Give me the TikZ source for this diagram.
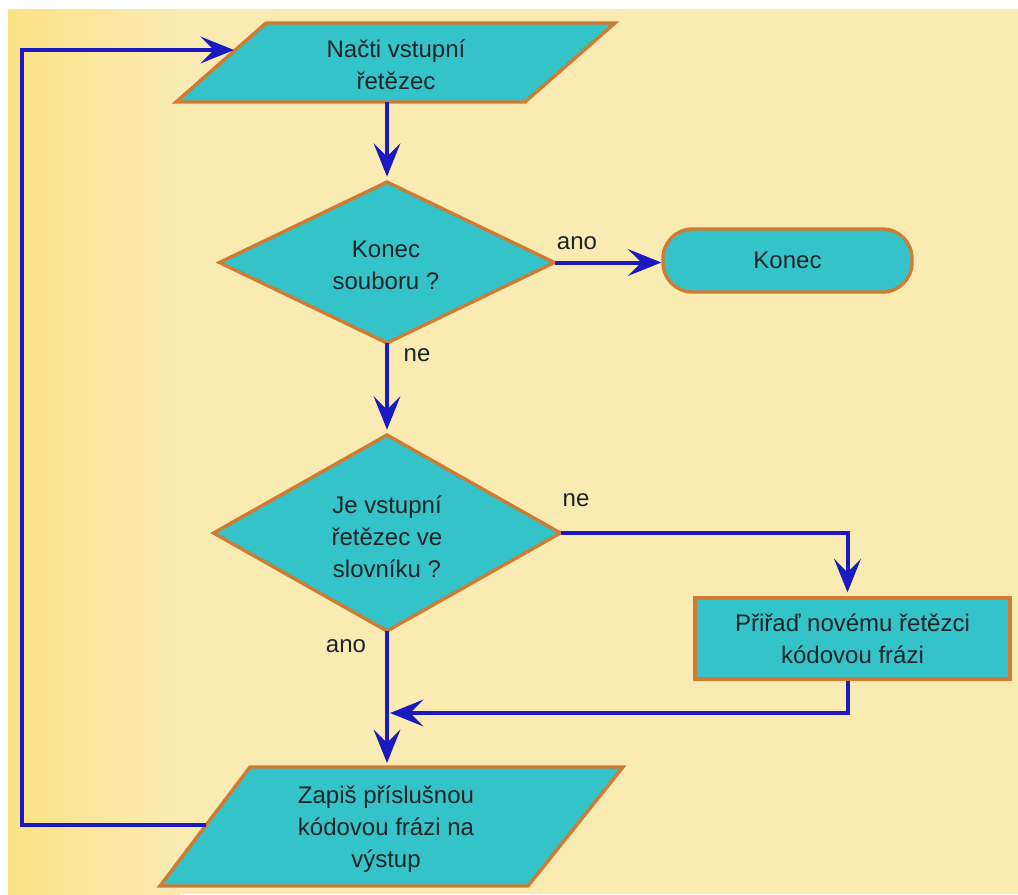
\documentclass[tikz,border=0pt]{standalone}
\usepackage{fontspec}
\setmainfont{Liberation Sans}
\usetikzlibrary{arrows.meta,shapes.geometric,calc}
\definecolor{bgpale}{HTML}{F9EBB2}
\definecolor{bgdeep}{HTML}{FCE186}
\definecolor{boxfill}{HTML}{34C3C8}
\definecolor{boxline}{HTML}{D07A32}
\definecolor{flow}{HTML}{1A1AC0}
\definecolor{ink}{HTML}{1C2428}
\begin{document}
\begin{tikzpicture}[x=0.75pt,y=-0.75pt,
  shapebox/.style={draw=boxline, fill=boxfill, line width=2.5pt},
  dia/.style={shapebox, diamond, inner sep=0pt, outer sep=0pt},
  txt/.style={text=ink, font=\fontsize{18}{24}\selectfont, align=center, inner sep=0pt},
  lbl/.style={txt},
  flowline/.style={draw=flow, line width=3pt},
  flowarrow/.style={flowline, -{Stealth[length=25pt,width=20pt,inset=10pt]}}
]
\useasboundingbox (0,0) rectangle (1018,894);
% background
\fill[white] (0,0) rectangle (1018,894);
\fill[bgpale] (8,9) rectangle (1018,894);
\shade[left color=bgdeep, right color=bgpale] (8,9) rectangle (180,894);

% parallelogram 1
\draw[shapebox] (266,23) -- (615,23) -- (525,102) -- (176,102) -- cycle;
\coordinate (p1b) at (387,102);
\coordinate (p1l) at (234,50);
\node[txt] (p1) at (396,65) {Načti vstupní\\řetězec};

% decision 1
\node[dia, minimum width=251.25pt, minimum height=120.75pt] (d1) at (387,262.5) {};
\node[txt] (d1t) at (386,265) {Konec\\souboru ?};

% terminal
\node[shapebox, txt, rounded corners=22pt, minimum width=186.75pt, minimum height=47.25pt] (t) at (787.5,260.5) {Konec};

% decision 2
\node[dia, minimum width=260.25pt, minimum height=147pt] (d2) at (387,533) {};
\node[txt] (d2t) at (387,537) {Je vstupní\\řetězec ve\\slovníku ?};

% process
\node[shapebox, txt, minimum width=236.25pt, minimum height=60.75pt] (r) at (852.5,638.5) {Přiřaď novému řetězci\\kódovou frázi};

% parallelogram 2
\draw[shapebox] (250,767) -- (623,767) -- (528,886) -- (160,886) -- cycle;
\coordinate (p2t) at (387,767);
\coordinate (p2l) at (206,825);
\node[txt] (p2) at (386,829) {Zapiš příslušnou\\kódovou frázi na\\výstup};

% connectors
\draw[flowarrow, shorten >=4pt] (p1b) -- (d1.north);
\draw[flowarrow] (d1.east) -- (d1.east -| t.west);
\node[lbl] (lano1) at (577,243) {ano};
\draw[flowarrow, shorten >=4pt] (d1.south) -- (d2.north);
\node[lbl] (lne1) at (417,355) {ne};
\draw[flowarrow, shorten >=3pt] (d2.east) -| ([xshift=-3.75pt]r.north);
\node[lbl] (lne2) at (576,500) {ne};
\coordinate (j) at (390,713);
\draw[flowarrow] ([xshift=-3.75pt]r.south) |- (j);
\draw[flowarrow, shorten >=3pt] (d2.south) -- (p2t);
\node[lbl] (lano2) at (346,646) {ano};
\coordinate (lb) at (22,825);
\coordinate (lt) at (22,50);
\draw[flowarrow] (p2l) -- (lb) -- (lt) -- (p1l);
\end{tikzpicture}
\end{document}
